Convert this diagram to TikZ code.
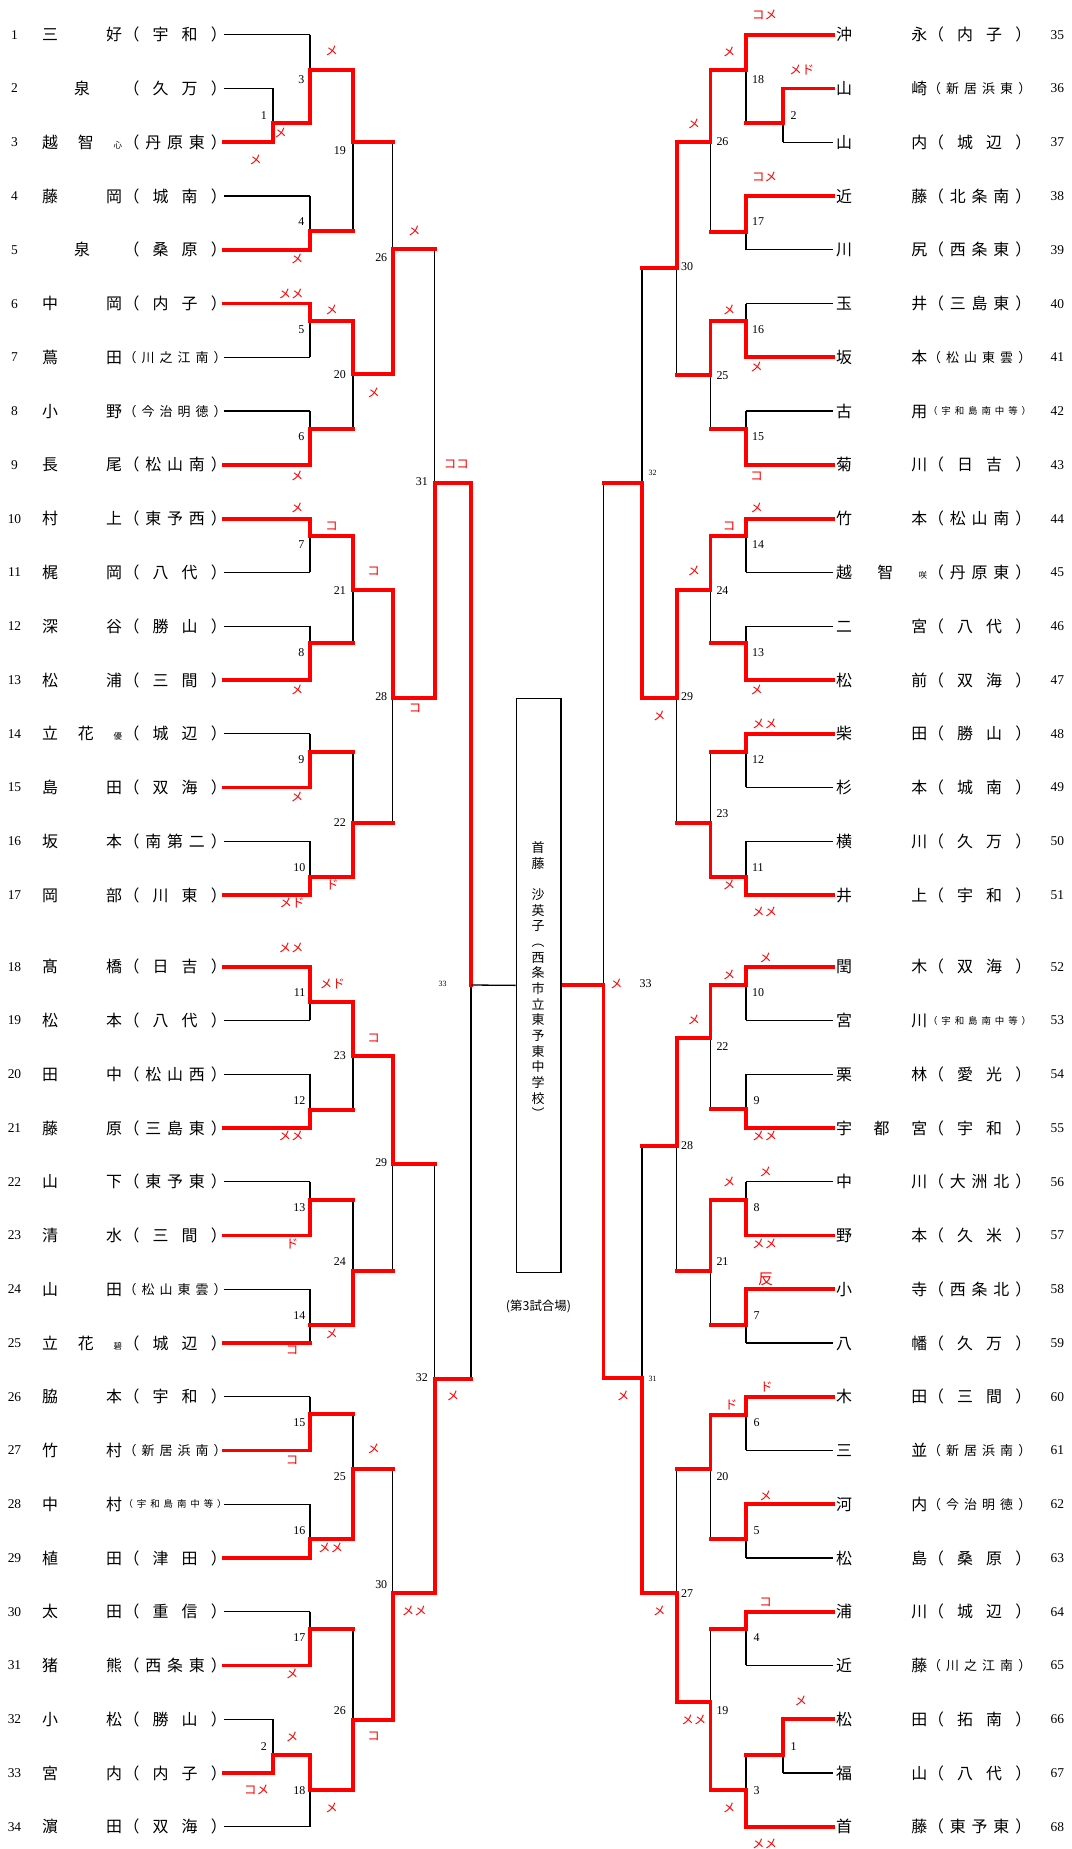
\documentclass[tikz,border=0pt]{standalone}
\usepackage{fontspec}
\usepackage{graphicx}
\setmainfont{Liberation Serif}
\newfontfamily\jp{Noto Sans CJK JP}
\def\spread#1{\spreadA#1\relax}
\def\spreadA#1#2{#1\ifx\relax#2\else\hfill\expandafter\spreadA\expandafter#2\fi}
\newcommand\schN[1]{\makebox[103.2bp][s]{\spread{（#1）}}}
\newcommand\schS[1]{\raisebox{1.1bp}{\fontsize{13}{13}\selectfont\makebox[103.2bp][s]{\spread{（#1）}}}}
\newcommand\schT[1]{\raisebox{2.4bp}{\fontsize{9.5}{9.5}\selectfont\makebox[103.2bp][s]{\spread{（#1）}}}}
\newcommand\smc[1]{{\fontsize{8.5}{8.5}\selectfont #1}}
\newcommand\one[1]{\hfill{}#1\hfill{}}
\newcommand\tri[3]{#1\hfill{}#2\hfill{}\smc{#3}}
\def\xLz{223.8}\def\xLa{273.1}\def\xLb{309.9}\def\xLc{353}\def\xLd{392.6}\def\xLe{434.6}\def\xLf{471.1}\def\xLg{515.5}
\def\xRz{833}\def\xRa{782.9}\def\xRb{746}\def\xRc{710.5}\def\xRd{676.7}\def\xRe{642.1}\def\xRf{603.5}\def\xRg{560.4}
\tikzset{
 blk/.style={line width=1.3bp, black},
 win/.style={line width=3.8bp, red, line cap=rect},
 numtxt/.style={inner sep=0, font=\fontsize{13.5}{13.5}\selectfont, text height=9bp, text depth=0bp},
 lbl/.style={inner sep=0, font=\fontsize{12}{12}\selectfont, text height=8bp, text depth=0bp},
 lbls/.style={inner sep=0, font=\fontsize{8}{8}\selectfont, text height=5.3bp, text depth=0bp},
 nm/.style={inner sep=0, font=\jp\fontsize{16}{16}\selectfont, text height=14.1bp, text depth=1.9bp},
 mk/.style={inner sep=0, text=red, font=\jp\fontsize{12.5}{12.5}\selectfont, text height=11bp, text depth=1.5bp},
 boxtxt/.style={inner sep=0, font=\jp\fontsize{13}{13}\selectfont, text height=11.4bp, text depth=1.6bp},
}
\newcommand\PL[4]{%
  \node[numtxt] (n#1) at (14.5,#2) {#1};
  \node[nm] (a#1) at (82,#2) {\makebox[80bp][s]{#3}};
  \node[nm] (s#1) at (175.1,#2) {#4};}
\newcommand\PR[4]{%
  \node[numtxt] (n#1) at (1057.3,#2) {#1};
  \node[nm] (a#1) at (881.6,#2) {\makebox[91.2bp][s]{#3}};
  \node[nm] (s#1) at (979.6,#2) {#4};}
\newcommand\MK[4]{\node[mk] (#1) at (#2,#3) {#4};}
\newcommand\LE[4]{\node[lbl,anchor=east] (#1) at (#2,#3) {#4};}
\newcommand\LW[4]{\node[lbl,anchor=west] (#1) at (#2,#3) {#4};}
\newcommand\alldata{%
 % left player lines
 \pl{\xLz}{\xLb}{34.7}{k}\pl{\xLz}{\xLa}{88.47}{k}\pl{\xLz}{\xLa}{142.24}{r}\pl{\xLz}{\xLb}{196.01}{k}
 \pl{\xLz}{\xLb}{249.78}{r}\pl{\xLz}{\xLb}{303.55}{r}\pl{\xLz}{\xLb}{357.32}{k}\pl{\xLz}{\xLb}{411.09}{k}
 \pl{\xLz}{\xLb}{464.86}{r}\pl{\xLz}{\xLb}{518.63}{r}\pl{\xLz}{\xLb}{572.4}{k}\pl{\xLz}{\xLb}{626.17}{k}
 \pl{\xLz}{\xLb}{679.94}{r}\pl{\xLz}{\xLb}{733.71}{k}\pl{\xLz}{\xLb}{787.48}{r}\pl{\xLz}{\xLb}{841.25}{k}
 \pl{\xLz}{\xLb}{895.02}{r}\pl{\xLz}{\xLb}{966.7}{r}\pl{\xLz}{\xLb}{1020.45}{k}\pl{\xLz}{\xLb}{1074.2}{k}
 \pl{\xLz}{\xLb}{1127.95}{r}\pl{\xLz}{\xLb}{1181.7}{k}\pl{\xLz}{\xLb}{1235.45}{r}\pl{\xLz}{\xLb}{1289.2}{k}
 \pl{\xLz}{\xLb}{1342.95}{r}\pl{\xLz}{\xLb}{1396.7}{k}\pl{\xLz}{\xLb}{1450.45}{r}\pl{\xLz}{\xLb}{1504.2}{k}
 \pl{\xLz}{\xLb}{1557.95}{r}\pl{\xLz}{\xLb}{1611.7}{k}\pl{\xLz}{\xLb}{1665.45}{r}\pl{\xLz}{\xLa}{1719.2}{k}
 \pl{\xLz}{\xLa}{1772.95}{r}\pl{\xLz}{\xLb}{1826.7}{k}
 % right player lines
 \pl{\xRz}{\xRb}{34.7}{r}\pl{\xRz}{\xRa}{88.47}{r}\pl{\xRz}{\xRa}{142.24}{k}\pl{\xRz}{\xRb}{196.01}{r}
 \pl{\xRz}{\xRb}{249.78}{k}\pl{\xRz}{\xRb}{303.55}{k}\pl{\xRz}{\xRb}{357.32}{r}\pl{\xRz}{\xRb}{411.09}{k}
 \pl{\xRz}{\xRb}{464.86}{r}\pl{\xRz}{\xRb}{518.63}{r}\pl{\xRz}{\xRb}{572.4}{k}\pl{\xRz}{\xRb}{626.17}{k}
 \pl{\xRz}{\xRb}{679.94}{r}\pl{\xRz}{\xRb}{733.71}{r}\pl{\xRz}{\xRb}{787.48}{k}\pl{\xRz}{\xRb}{841.25}{k}
 \pl{\xRz}{\xRb}{895.02}{r}\pl{\xRz}{\xRb}{966.7}{r}\pl{\xRz}{\xRb}{1020.45}{k}\pl{\xRz}{\xRb}{1074.2}{k}
 \pl{\xRz}{\xRb}{1127.95}{r}\pl{\xRz}{\xRb}{1181.7}{k}\pl{\xRz}{\xRb}{1235.45}{r}\pl{\xRz}{\xRb}{1289.2}{r}
 \pl{\xRz}{\xRb}{1342.95}{k}\pl{\xRz}{\xRb}{1396.7}{r}\pl{\xRz}{\xRb}{1450.45}{k}\pl{\xRz}{\xRb}{1504.2}{r}
 \pl{\xRz}{\xRb}{1557.95}{k}\pl{\xRz}{\xRb}{1611.7}{r}\pl{\xRz}{\xRb}{1665.45}{k}\pl{\xRz}{\xRa}{1719.2}{r}
 \pl{\xRz}{\xRa}{1772.95}{k}\pl{\xRz}{\xRb}{1826.7}{r}
 % left matches
 \mt{\xLa}{88.47}{142.24}{123.3}{\xLb}{b}
 \mt{\xLb}{34.7}{123.3}{70}{\xLc}{b}
 \mt{\xLb}{196.01}{249.78}{230.7}{\xLc}{b}
 \mt{\xLb}{303.55}{357.32}{320.7}{\xLc}{t}
 \mt{\xLb}{411.09}{464.86}{429}{\xLc}{b}
 \mt{\xLb}{518.63}{572.4}{536}{\xLc}{t}
 \mt{\xLb}{626.17}{679.94}{643.3}{\xLc}{b}
 \mt{\xLb}{733.71}{787.48}{751.7}{\xLc}{b}
 \mt{\xLb}{841.25}{895.02}{876.7}{\xLc}{b}
 \mt{\xLb}{966.7}{1020.45}{1002.3}{\xLc}{t}
 \mt{\xLb}{1074.2}{1127.95}{1110}{\xLc}{b}
 \mt{\xLb}{1181.7}{1235.45}{1200}{\xLc}{b}
 \mt{\xLb}{1289.2}{1342.95}{1325}{\xLc}{n}
 \mt{\xLb}{1396.7}{1450.45}{1414.3}{\xLc}{b}
 \mt{\xLb}{1504.2}{1557.95}{1539.3}{\xLc}{b}
 \mt{\xLb}{1611.7}{1665.45}{1629.3}{\xLc}{b}
 \mt{\xLa}{1719.2}{1772.95}{1755}{\xLb}{b}
 \mt{\xLb}{1755}{1826.7}{1790}{\xLc}{t}
 \mt{\xLc}{70}{230.7}{141.7}{\xLd}{t}
 \mt{\xLc}{320.7}{429}{374.3}{\xLd}{t}
 \mt{\xLc}{536}{643.3}{590}{\xLd}{t}
 \mt{\xLc}{751.7}{876.7}{822.7}{\xLd}{b}
 \mt{\xLc}{1002.3}{1110}{1055.7}{\xLd}{t}
 \mt{\xLc}{1200}{1325}{1270.7}{\xLd}{b}
 \mt{\xLc}{1414.3}{1539.3}{1468.7}{\xLd}{b}
 \mt{\xLc}{1629.3}{1790}{1720}{\xLd}{b}
 \mt{\xLd}{141.7}{374.3}{249.3}{\xLe}{b}
 \mt{\xLd}{590}{822.7}{697.7}{\xLe}{t}
 \mt{\xLd}{1055.7}{1270.7}{1163.7}{\xLe}{t}
 \mt{\xLd}{1468.7}{1720}{1593.3}{\xLe}{b}
 \mt{\xLe}{249.3}{697.7}{482.7}{\xLf}{b}
 \mt{\xLe}{1163.7}{1593.3}{1379}{\xLf}{b}
 % right matches
 \mt{\xRa}{88.47}{142.24}{123.3}{\xRb}{t}
 \mt{\xRb}{34.7}{123.3}{70}{\xRc}{t}
 \mt{\xRb}{196.01}{249.78}{231.7}{\xRc}{t}
 \mt{\xRb}{303.55}{357.32}{321}{\xRc}{b}
 \mt{\xRb}{411.09}{464.86}{429}{\xRc}{b}
 \mt{\xRb}{518.63}{572.4}{536}{\xRc}{t}
 \mt{\xRb}{626.17}{679.94}{643.3}{\xRc}{b}
 \mt{\xRb}{733.71}{787.48}{751.7}{\xRc}{t}
 \mt{\xRb}{841.25}{895.02}{876.7}{\xRc}{b}
 \mt{\xRb}{966.7}{1020.45}{985}{\xRc}{t}
 \mt{\xRb}{1074.2}{1127.95}{1109.3}{\xRc}{b}
 \mt{\xRb}{1181.7}{1235.45}{1200}{\xRc}{b}
 \mt{\xRb}{1289.2}{1342.95}{1325}{\xRc}{t}
 \mt{\xRb}{1396.7}{1450.45}{1415}{\xRc}{t}
 \mt{\xRb}{1504.2}{1557.95}{1539.3}{\xRc}{t}
 \mt{\xRb}{1611.7}{1665.45}{1629.3}{\xRc}{t}
 \mt{\xRa}{1719.2}{1772.95}{1755}{\xRb}{t}
 \mt{\xRb}{1755}{1826.7}{1790}{\xRc}{b}
 \mt{\xRc}{70}{231.7}{141.7}{\xRd}{t}
 \mt{\xRc}{321}{429}{375}{\xRd}{t}
 \mt{\xRc}{536}{643.3}{590}{\xRd}{t}
 \mt{\xRc}{751.7}{876.7}{822.7}{\xRd}{b}
 \mt{\xRc}{985}{1109.3}{1037.7}{\xRd}{t}
 \mt{\xRc}{1200}{1325}{1270.7}{\xRd}{t}
 \mt{\xRc}{1415}{1539.3}{1468.7}{\xRd}{t}
 \mt{\xRc}{1629.3}{1790}{1701.7}{\xRd}{b}
 \mt{\xRd}{141.7}{375}{267.7}{\xRe}{t}
 \mt{\xRd}{590}{822.7}{697.7}{\xRe}{t}
 \mt{\xRd}{1037.7}{1270.7}{1145.7}{\xRe}{t}
 \mt{\xRd}{1468.7}{1701.7}{1593.3}{\xRe}{b}
 \mt{\xRe}{267.7}{697.7}{482.7}{\xRf}{b}
 \mt{\xRe}{1145.7}{1593.3}{1378.3}{\xRf}{b}
 \mt{\xRf}{482.7}{1378.3}{985}{\xRg}{b}
}
\begin{document}
\begin{tikzpicture}[x=1bp,y=-1bp]
\fill[white] (0,0) rectangle (1071,1849);
\useasboundingbox (0,0) rectangle (1071,1849);
% ---------- players left
\PL{1}{34.7}{\spread{三好}}{\schN{宇和}}
\PL{2}{88.47}{\one{泉}}{\schN{久万}}
\PL{3}{142.24}{\tri{越}{智}{心}}{\schN{丹原東}}
\PL{4}{196.01}{\spread{藤岡}}{\schN{城南}}
\PL{5}{249.78}{\one{泉}}{\schN{桑原}}
\PL{6}{303.55}{\spread{中岡}}{\schN{内子}}
\PL{7}{357.32}{\spread{蔦田}}{\schS{川之江南}}
\PL{8}{411.09}{\spread{小野}}{\schS{今治明徳}}
\PL{9}{464.86}{\spread{長尾}}{\schN{松山南}}
\PL{10}{518.63}{\spread{村上}}{\schN{東予西}}
\PL{11}{572.4}{\spread{梶岡}}{\schN{八代}}
\PL{12}{626.17}{\spread{深谷}}{\schN{勝山}}
\PL{13}{679.94}{\spread{松浦}}{\schN{三間}}
\PL{14}{733.71}{\tri{立}{花}{優}}{\schN{城辺}}
\PL{15}{787.48}{\spread{島田}}{\schN{双海}}
\PL{16}{841.25}{\spread{坂本}}{\schN{南第二}}
\PL{17}{895.02}{\spread{岡部}}{\schN{川東}}
\PL{18}{966.7}{\spread{髙橋}}{\schN{日吉}}
\PL{19}{1020.45}{\spread{松本}}{\schN{八代}}
\PL{20}{1074.2}{\spread{田中}}{\schN{松山西}}
\PL{21}{1127.95}{\spread{藤原}}{\schN{三島東}}
\PL{22}{1181.7}{\spread{山下}}{\schN{東予東}}
\PL{23}{1235.45}{\spread{清水}}{\schN{三間}}
\PL{24}{1289.2}{\spread{山田}}{\schS{松山東雲}}
\PL{25}{1342.95}{\tri{立}{花}{碧}}{\schN{城辺}}
\PL{26}{1396.7}{\spread{脇本}}{\schN{宇和}}
\PL{27}{1450.45}{\spread{竹村}}{\schS{新居浜南}}
\PL{28}{1504.2}{\spread{中村}}{\schT{宇和島南中等}}
\PL{29}{1557.95}{\spread{植田}}{\schN{津田}}
\PL{30}{1611.7}{\spread{太田}}{\schN{重信}}
\PL{31}{1665.45}{\spread{猪熊}}{\schN{西条東}}
\PL{32}{1719.2}{\spread{小松}}{\schN{勝山}}
\PL{33}{1772.95}{\spread{宮内}}{\schN{内子}}
\PL{34}{1826.7}{\spread{濵田}}{\schN{双海}}
% ---------- players right
\PR{35}{34.7}{\spread{沖永}}{\schN{内子}}
\PR{36}{88.47}{\spread{山崎}}{\schS{新居浜東}}
\PR{37}{142.24}{\spread{山内}}{\schN{城辺}}
\PR{38}{196.01}{\spread{近藤}}{\schN{北条南}}
\PR{39}{249.78}{\spread{川尻}}{\schN{西条東}}
\PR{40}{303.55}{\spread{玉井}}{\schN{三島東}}
\PR{41}{357.32}{\spread{坂本}}{\schS{松山東雲}}
\PR{42}{411.09}{\spread{古用}}{\schT{宇和島南中等}}
\PR{43}{464.86}{\spread{菊川}}{\schN{日吉}}
\PR{44}{518.63}{\spread{竹本}}{\schN{松山南}}
\PR{45}{572.4}{\tri{越}{智}{咲}}{\schN{丹原東}}
\PR{46}{626.17}{\spread{二宮}}{\schN{八代}}
\PR{47}{679.94}{\spread{松前}}{\schN{双海}}
\PR{48}{733.71}{\spread{柴田}}{\schN{勝山}}
\PR{49}{787.48}{\spread{杉本}}{\schN{城南}}
\PR{50}{841.25}{\spread{横川}}{\schN{久万}}
\PR{51}{895.02}{\spread{井上}}{\schN{宇和}}
\PR{52}{966.7}{\spread{閏木}}{\schN{双海}}
\PR{53}{1020.45}{\spread{宮川}}{\schT{宇和島南中等}}
\PR{54}{1074.2}{\spread{栗林}}{\schN{愛光}}
\PR{55}{1127.95}{\spread{宇都宮}}{\schN{宇和}}
\PR{56}{1181.7}{\spread{中川}}{\schN{大洲北}}
\PR{57}{1235.45}{\spread{野本}}{\schN{久米}}
\PR{58}{1289.2}{\spread{小寺}}{\schN{西条北}}
\PR{59}{1342.95}{\spread{八幡}}{\schN{久万}}
\PR{60}{1396.7}{\spread{木田}}{\schN{三間}}
\PR{61}{1450.45}{\spread{三並}}{\schS{新居浜南}}
\PR{62}{1504.2}{\spread{河内}}{\schS{今治明徳}}
\PR{63}{1557.95}{\spread{松島}}{\schN{桑原}}
\PR{64}{1611.7}{\spread{浦川}}{\schN{城辺}}
\PR{65}{1665.45}{\spread{近藤}}{\schS{川之江南}}
\PR{66}{1719.2}{\spread{松田}}{\schN{拓南}}
\PR{67}{1772.95}{\spread{福山}}{\schN{八代}}
\PR{68}{1826.7}{\spread{首藤}}{\schN{東予東}}
% ---------- bracket: black pass
\def\pl#1#2#3#4{\ifx k#4\draw[blk] (#1,#3) -- (#2,#3);\fi}
\def\mt#1#2#3#4#5#6{\draw[blk] (#1,#2) -- (#1,#3);}
\alldata
\draw[blk] (\xLf,482.7) -- (\xLf,1379);
% ---------- bracket: red pass
\def\pl#1#2#3#4{\ifx r#4\draw[win] (#1,#3) -- (#2,#3);\fi}
\def\mt#1#2#3#4#5#6{\ifx t#6\draw[win] (#1,#2) -- (#1,#4);\fi\ifx b#6\draw[win] (#1,#3) -- (#1,#4);\fi\draw[win] (#1,#4) -- (#5,#4);}
\alldata
\draw[win] (\xLf,482.7) -- (\xLf,985);
% ---------- centre box
\node[draw, line width=1.3bp, inner sep=0, minimum width=44.9bp, minimum height=574bp, anchor=north west, fill=white] (box) at (\xLg,697.7) {};
\draw[blk] (\xLf,985) -- (box.west);
\foreach \c [count=\k from 0] in {首,藤,{},沙,英,子,︵,西,条,市,立,東,予,東,中,学,校,︶}
  \node[boxtxt] (bt\k) at (538,{847.7+\k*15.66}) {\c};
\node[inner sep=0, font=\jp\fontsize{12.5}{12.5}\selectfont] (venue) at (538.5,1306) {(第3試合場)};
% ---------- match labels left
\LE{lL1}{267}{115}{1}\LE{lL2}{267}{1746}{2}
\LE{lL3}{304.5}{79}{3}\LE{lL4}{304.5}{221.7}{4}\LE{lL5}{304.5}{329.3}{5}\LE{lL6}{304.5}{436.7}{6}
\LE{lL7}{304.5}{544}{7}\LE{lL8}{304.5}{652.7}{8}\LE{lL9}{304.5}{759.3}{9}\LE{lL10}{305.5}{867.3}{10}
\LE{lL11}{305.5}{992.7}{11}\LE{lL12}{305.5}{1100.7}{12}\LE{lL13}{305.5}{1207.7}{13}\LE{lL14}{305.5}{1315.7}{14}
\LE{lL15}{305.5}{1422.3}{15}\LE{lL16}{305.5}{1530}{16}\LE{lL17}{305.5}{1637.7}{17}\LE{lL18}{305.5}{1790.7}{18}
\LE{lL19}{346}{150.7}{19}\LE{lL20}{346}{374.3}{20}\LE{lL21}{346}{590}{21}\LE{lL22}{346}{822.7}{22}
\LE{lL23}{346}{1055.7}{23}\LE{lL24}{346}{1261.7}{24}\LE{lL25}{346}{1476.7}{25}\LE{lL26b}{346}{1710}{26}
\LE{lL26a}{387.4}{257.7}{26}\LE{lL28}{387.4}{696.7}{28}\LE{lL29}{387.4}{1162.3}{29}\LE{lL30}{387.4}{1584.3}{30}
\LE{lL31}{428}{481.7}{31}\LE{lL32}{428}{1377.3}{32}
\node[lbls] (lL33) at (442.5,983.7) {33};
% ---------- match labels right
\LW{lR2}{790.5}{115}{2}\LW{lR1}{790.5}{1746}{1}
\LW{lR18}{752}{79}{18}\LW{lR17}{752}{221.7}{17}\LW{lR16}{752}{329.3}{16}\LW{lR15}{752}{436.7}{15}
\LW{lR14}{752}{544}{14}\LW{lR13}{752}{652.7}{13}\LW{lR12}{752}{759.3}{12}\LW{lR11}{752}{867.3}{11}
\LW{lR10}{752}{992.7}{10}\LW{lR9}{753.5}{1100.7}{9}\LW{lR8}{753.5}{1207.7}{8}\LW{lR7}{753.5}{1315.7}{7}
\LW{lR6}{753.5}{1422.3}{6}\LW{lR5}{753.5}{1530}{5}\LW{lR4}{753.5}{1637.7}{4}\LW{lR3}{753.5}{1790.7}{3}
\LW{lR26}{716.3}{141.7}{26}\LW{lR25}{716.3}{375}{25}\LW{lR24}{716.3}{590}{24}\LW{lR23}{716.3}{813.3}{23}
\LW{lR22}{716.3}{1046.7}{22}\LW{lR21}{716.3}{1261.7}{21}\LW{lR20}{716.3}{1476.7}{20}\LW{lR19}{716.3}{1710}{19}
\LW{lR30}{681}{266.7}{30}\LW{lR29}{681}{696.7}{29}\LW{lR28}{681}{1145.7}{28}\LW{lR27}{681}{1593.3}{27}
\node[lbls] (lR32) at (652.5,472.7) {32};
\node[lbls] (lR31) at (652.5,1379) {31};
\node[lbl] (lR33) at (645.6,983.3) {33};
% ---------- red marks left
\MK{m1}{331.6}{51}{メ}\MK{m2}{280.6}{132.7}{メ}\MK{m3}{255.5}{159.3}{メ}\MK{m4}{297.2}{259}{メ}
\MK{m5}{414.3}{230.7}{メ}\MK{m6}{291}{294}{メメ}\MK{m7}{331.6}{310}{メ}\MK{m8}{373.6}{392.3}{メ}
\MK{m9}{297.2}{475.7}{メ}\MK{m10}{456.3}{463.3}{ココ}\MK{m11}{297.2}{507.3}{メ}\MK{m12}{331.6}{525.7}{コ}
\MK{m13}{373.6}{570.7}{コ}\MK{m14}{297.2}{690}{メ}\MK{m15}{415}{707.7}{コ}\MK{m16}{297.2}{796.7}{メ}
\MK{m17}{332.3}{885}{ド}\MK{m18}{292}{902.7}{メド}\MK{m19}{291}{947.3}{メメ}\MK{m20}{332.3}{984}{メド}
\MK{m21}{373.6}{1037.3}{コ}\MK{m22}{291}{1135.7}{メメ}\MK{m23}{292}{1243.3}{ド}\MK{m24}{331.6}{1333.3}{メ}
\MK{m25}{292}{1350}{コ}\MK{m26}{452.8}{1395.7}{メ}\MK{m27}{373.6}{1449}{メ}\MK{m28}{292}{1460}{コ}
\MK{m29}{330.6}{1547.3}{メメ}\MK{m30}{414.3}{1610.7}{メメ}\MK{m31}{292}{1674}{メ}\MK{m32}{373.6}{1735.7}{コ}
\MK{m33}{292}{1736.7}{メ}\MK{m34}{256.5}{1789.3}{コメ}\MK{m35}{331.6}{1807.7}{メ}
% ---------- red marks right
\MK{q1}{764.6}{15}{コメ}\MK{q2}{729.1}{51.7}{メ}\MK{q3}{801.9}{69.3}{メド}\MK{q4}{693.9}{124}{メ}
\MK{q5}{764.6}{176.7}{コメ}\MK{q6}{729.1}{310}{メ}\MK{q7}{756.7}{366.7}{メ}\MK{q8}{756.7}{475.7}{コ}
\MK{q9}{756.7}{507.3}{メ}\MK{q10}{729.1}{525.7}{コ}\MK{q11}{693.9}{570.7}{メ}\MK{q12}{756.7}{690}{メ}
\MK{q13}{659.4}{716}{メ}\MK{q14}{764.6}{724}{メメ}\MK{q15}{729.1}{885}{メ}\MK{q16}{764.6}{911.7}{メメ}
\MK{q17}{765.7}{957.7}{メ}\MK{q18}{729.1}{975}{メ}\MK{q19}{616.3}{983.3}{メ}\MK{q20}{693.9}{1019.3}{メ}
\MK{q21}{764.6}{1135.7}{メメ}\MK{q22}{765.7}{1171.7}{メ}\MK{q23}{729.1}{1181.7}{メ}\MK{q24}{764.6}{1244}{メメ}
\node[mk, font=\jp\fontsize{15}{15}\selectfont] (q25) at (765.7,1280) {反};
\MK{q26}{766.4}{1386.7}{ド}\MK{q27}{623.2}{1395.7}{メ}\MK{q28}{731.2}{1404.3}{ド}\MK{q29}{765.7}{1495.7}{メ}
\MK{q30}{765.7}{1601.7}{コ}\MK{q31}{659.4}{1610.7}{メ}\MK{q32}{800.9}{1700.7}{メ}\MK{q33}{693.9}{1719.3}{メメ}
\MK{q34}{729.1}{1807.7}{メ}\MK{q35}{764.6}{1843.3}{メメ}
\end{tikzpicture}
\end{document}
